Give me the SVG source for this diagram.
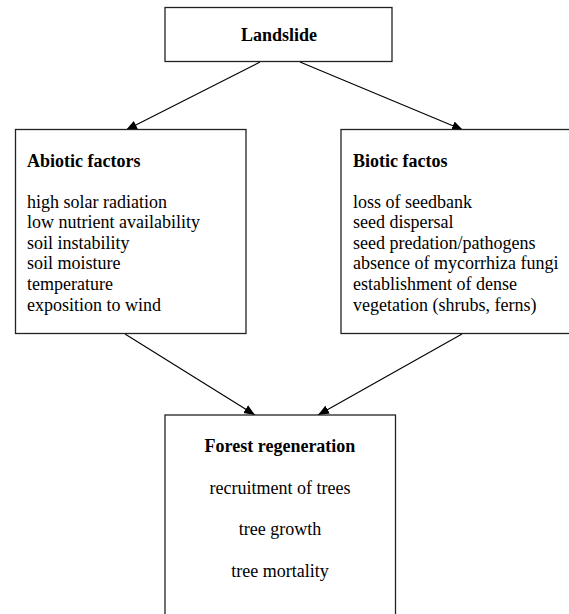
<svg xmlns="http://www.w3.org/2000/svg" width="569" height="614" viewBox="0 0 569 614">
<style>
.box{fill:#fff;stroke:#222;stroke-width:1.3}
.t{font-family:"Liberation Serif","Times New Roman",serif;font-size:18px;fill:#000}
.b{font-weight:bold}
.c{text-anchor:middle}
.conn line{stroke:#000;stroke-width:1.1}
</style>
<defs>
<marker id="ah" markerUnits="userSpaceOnUse" markerWidth="12" markerHeight="10" refX="11" refY="5" orient="auto">
<path d="M0,0.5 L11,5 L0,9.5 Z" fill="#000"/>
</marker>
</defs>
<rect width="569" height="614" fill="#fff"/>
<g id="connectors" class="conn">
<line x1="260" y1="62" x2="126" y2="130" marker-end="url(#ah)"/>
<line x1="300" y1="62" x2="463" y2="130" marker-end="url(#ah)"/>
<line x1="125" y1="334" x2="255" y2="415" marker-end="url(#ah)"/>
<line x1="462" y1="334" x2="318" y2="415" marker-end="url(#ah)"/>
</g>
<g id="landslide">
<rect class="box" x="165" y="7.5" width="227" height="54"/>
<text class="t b c" x="279" y="41">Landslide</text>
</g>
<g id="abiotic">
<rect class="box" x="15.5" y="129.5" width="230.5" height="204"/>
<text class="t b" x="27" y="167">Abiotic factors</text>
<text class="t" x="27" y="207.5">high solar radiation</text>
<text class="t" x="27" y="228">low nutrient availability</text>
<text class="t" x="27" y="248.7">soil instability</text>
<text class="t" x="27" y="269.4">soil moisture</text>
<text class="t" x="27" y="290">temperature</text>
<text class="t" x="27" y="310.7">exposition to wind</text>
</g>
<g id="biotic">
<rect class="box" x="341" y="129.5" width="240" height="204"/>
<text class="t b" x="353" y="167">Biotic factos</text>
<text class="t" x="353" y="207.5">loss of seedbank</text>
<text class="t" x="353" y="228">seed dispersal</text>
<text class="t" x="353" y="248.7">seed predation/pathogens</text>
<text class="t" x="353" y="269.4">absence of mycorrhiza fungi</text>
<text class="t" x="353" y="290">establishment of dense</text>
<text class="t" x="353" y="310.7">vegetation (shrubs, ferns)</text>
</g>
<g id="forest">
<rect class="box" x="165" y="415" width="230.5" height="220"/>
<text class="t b c" x="280" y="452">Forest regeneration</text>
<text class="t c" x="280" y="493.5">recruitment of trees</text>
<text class="t c" x="280" y="535">tree growth</text>
<text class="t c" x="280" y="576.5">tree mortality</text>
</g>
</svg>
